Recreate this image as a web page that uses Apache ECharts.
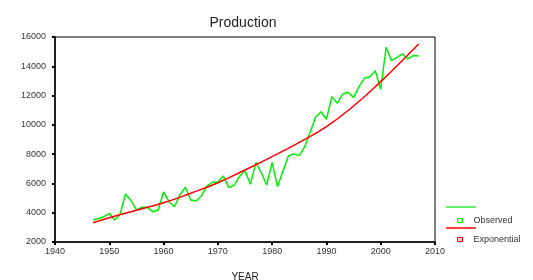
<!DOCTYPE html>
<html>
<head>
<meta charset="utf-8">
<script src="https://cdn.jsdelivr.net/npm/echarts@6/dist/echarts.min.js"></script>
<style>
  html, body { margin: 0; padding: 0; background: #fff; }
  #chart { width: 533px; height: 280px; }
</style>
</head>
<body>
<div id="chart"></div>
<script>
// observed production by year
var years = [1947, 1948, 1949, 1950, 1951, 1952, 1953, 1954, 1955, 1956,
  1957, 1958, 1959, 1960, 1961, 1962, 1963, 1964, 1965, 1966,
  1967, 1968, 1969, 1970, 1971, 1972, 1973, 1974, 1975, 1976,
  1977, 1978, 1979, 1980, 1981, 1982, 1983, 1984, 1985, 1986,
  1987, 1988, 1989, 1990, 1991, 1992, 1993, 1994, 1995, 1996,
  1997, 1998, 1999, 2000, 2001, 2002, 2003, 2004, 2005, 2006, 2007];
var observed = [3500, 3600, 3730, 3960, 3500, 3910, 5280, 4820, 4190, 4370,
  4370, 4070, 4190, 5420, 4750, 4410, 5210, 5740, 4870, 4800,
  5160, 5830, 6080, 6080, 6510, 5710, 5890, 6480, 6870, 5940,
  7440, 6730, 5890, 7440, 5780, 6850, 7870, 8010, 7900, 8510,
  9490, 10520, 10900, 10380, 11930, 11470, 12110, 12230, 11860, 12610,
  13180, 13290, 13700, 12430, 15300, 14380, 14610, 14840, 14500, 14730, 14700];

// exponential fit
var fitYears = [1947, 1950, 1955, 1960, 1965, 1970, 1975, 1980, 1985, 1990, 1995, 2000, 2005, 2007];
var fitted = [3320, 3660, 4170, 4680, 5330, 6050, 6920, 7830, 8810, 9880, 11290, 12950, 14770, 15520];

function pairs(xs, ys) {
  var out = [];
  for (var i = 0; i < xs.length; i++) out.push([xs[i], ys[i]]);
  return out;
}

var font = "Liberation Sans, Arial, sans-serif";
var chart = echarts.init(document.getElementById("chart"));

chart.setOption({
  animation: false,
  title: {
    text: "Production",
    left: 238,
    textAlign: "center",
    top: 11,
    textStyle: { fontFamily: font, fontSize: 14, fontWeight: "normal", color: "#222" }
  },
  grid: {
    left: 55, right: 98, top: 37, bottom: 38,
    show: true, borderColor: "#000", borderWidth: 1,
    containLabel: false, outerBoundsMode: "none"
  },
  xAxis: {
    type: "value",
    min: 1940, max: 2010, interval: 10,
    name: "YEAR",
    nameLocation: "middle",
    nameGap: 30,
    nameTextStyle: { fontFamily: font, fontSize: 10, color: "#222" },
    axisLine: { lineStyle: { color: "#000", width: 1.5 } },
    axisTick: { length: 3, lineStyle: { color: "#000", width: 2 } },
    axisLabel: { fontFamily: font, fontSize: 9, color: "#333", margin: 5, formatter: function (v) { return String(v); } },
    splitLine: { show: false }
  },
  yAxis: {
    type: "value",
    min: 2000, max: 16000, interval: 2000,
    axisLine: { show: true, lineStyle: { color: "#000", width: 1.5 } },
    axisTick: { show: true, length: 3, lineStyle: { color: "#000", width: 2 } },
    axisLabel: { fontFamily: font, fontSize: 9, color: "#333", margin: 9, formatter: function (v) { return String(v); } },
    splitLine: { show: false }
  },
  legend: {
    orient: "vertical",
    left: 452,
    top: 211,
    itemGap: 10,
    itemWidth: 5,
    itemHeight: 4,
    textStyle: { fontFamily: font, fontSize: 9, color: "#333", padding: [0, 0, 0, 6] },
    data: [
      { name: "Observed", icon: "rect", itemStyle: { color: "#cfc", borderColor: "#00ee00", borderWidth: 1 } },
      { name: "Exponential", icon: "rect", itemStyle: { color: "#fcc", borderColor: "#ff0000", borderWidth: 1 } }
    ]
  },
  graphic: [
    { type: "line", shape: { x1: 446, y1: 207, x2: 476, y2: 207 }, style: { stroke: "#66ee66", lineWidth: 2 } },
    { type: "line", shape: { x1: 446, y1: 228, x2: 476, y2: 228 }, style: { stroke: "#ff0000", lineWidth: 1.5 } }
  ],
  series: [
    {
      name: "Observed",
      type: "line",
      data: pairs(years, observed),
      showSymbol: false,
      lineStyle: { color: "#00ee00", width: 1.5 },
      itemStyle: { color: "#00ee00" }
    },
    {
      name: "Exponential",
      type: "line",
      smooth: true,
      data: pairs(fitYears, fitted),
      showSymbol: false,
      lineStyle: { color: "#ff0000", width: 1.5 },
      itemStyle: { color: "#ff0000" }
    }
  ]
});
</script>
</body>
</html>
